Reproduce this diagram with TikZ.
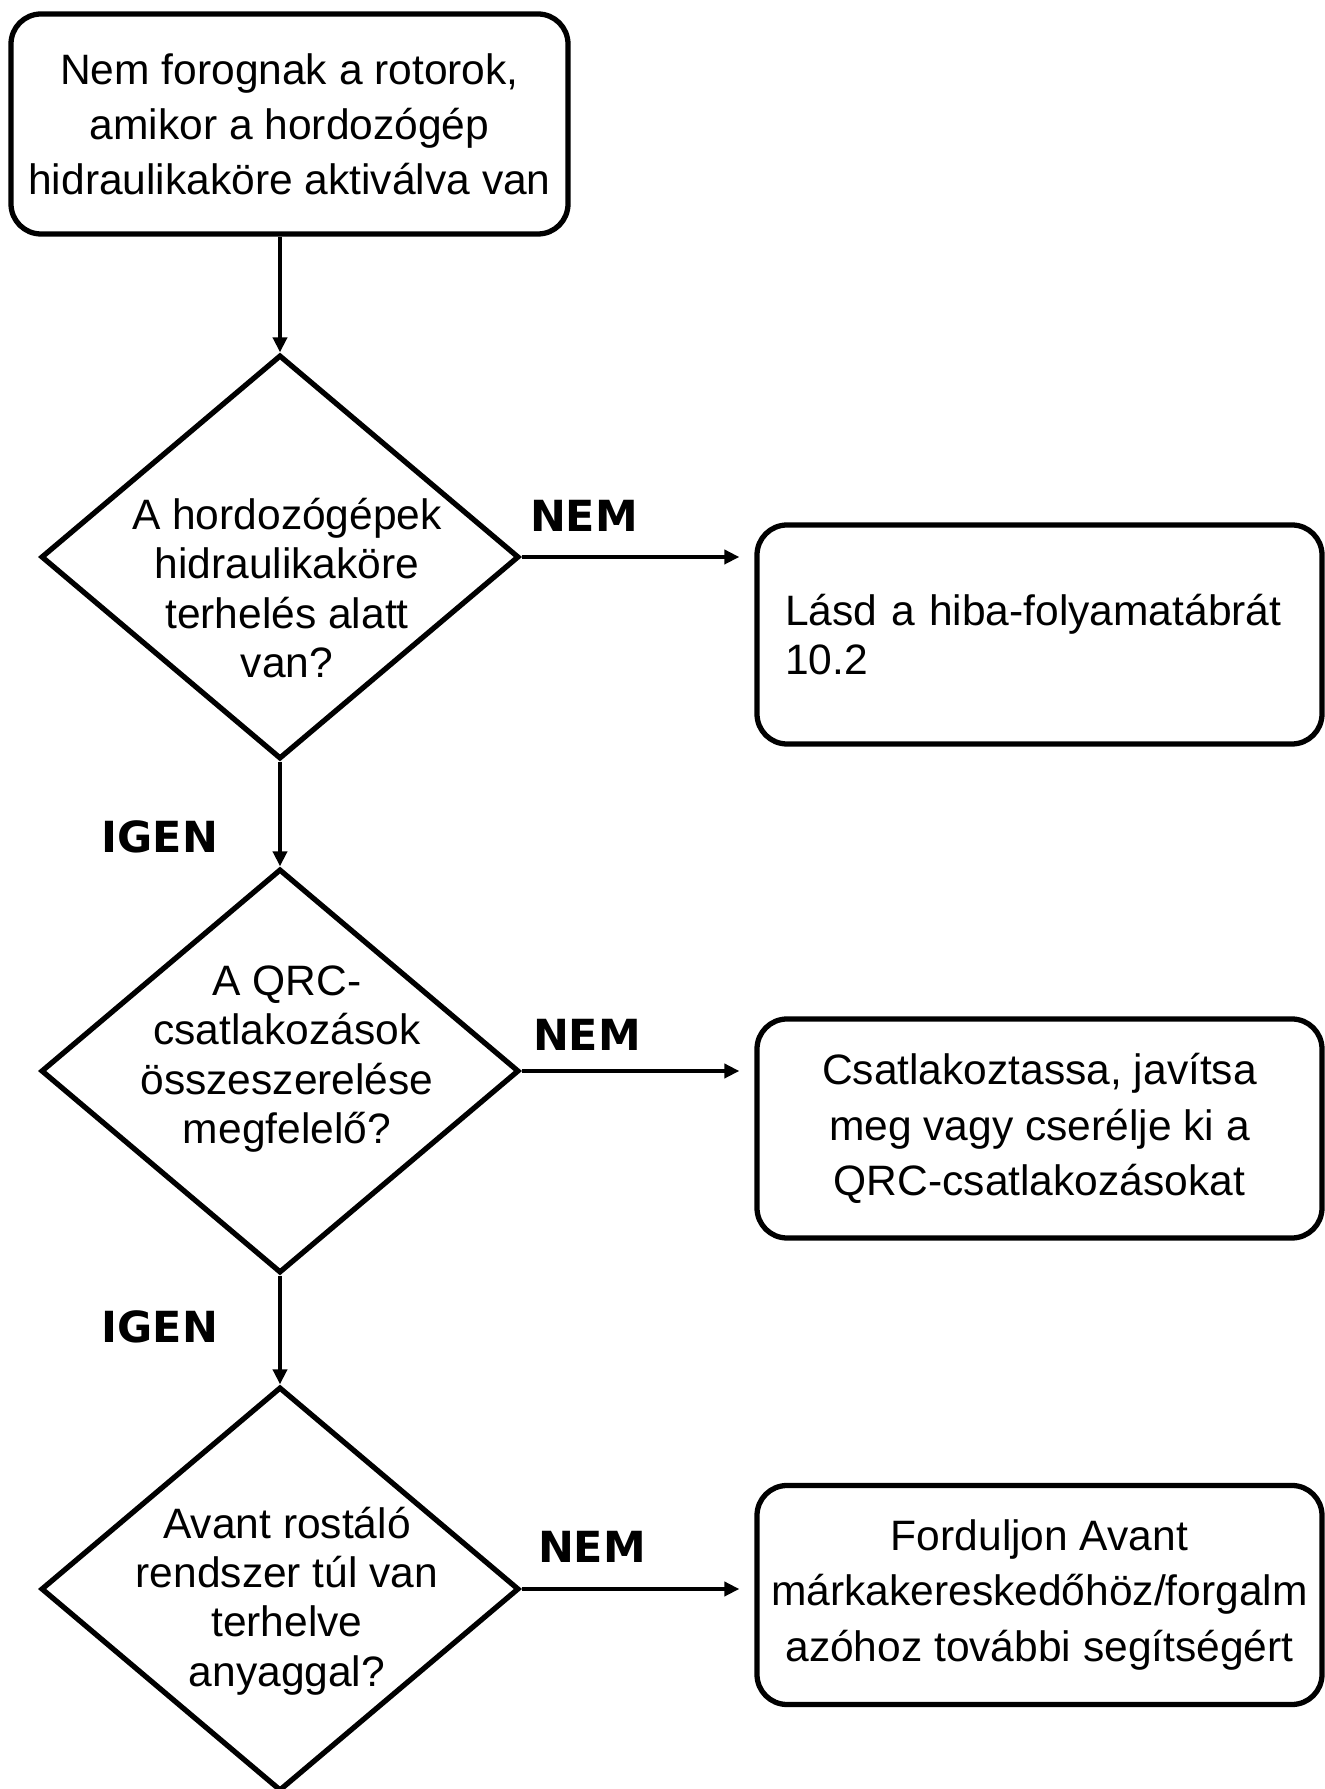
\documentclass[tikz,border=0pt]{standalone}
\usepackage{fontspec}
\setmainfont{Liberation Sans}
\newfontfamily\labelfont{DejaVu Sans}
\usetikzlibrary{arrows.meta,positioning,calc,shapes.geometric}

\begin{document}
\begin{tikzpicture}[
  stepbox/.style={draw,line width=1.5pt,rounded corners=0.3cm,minimum width=5.65cm,minimum height=2.19cm,inner sep=0pt,font=\fontsize{12.1}{15.7}\selectfont},
  decision/.style={draw,diamond,line width=1.5pt,minimum width=4.78cm,minimum height=4.04cm,inner sep=0pt},
  qtext/.style={align=center,inner sep=0pt,font=\fontsize{12.1}{14}\selectfont},
  answer/.style={inner sep=0pt,font=\labelfont\bfseries\fontsize{12.2}{14}\selectfont},
  flow/.style={-{Triangle[length=0.15cm,width=0.14cm]},line width=1.2pt}
]
\useasboundingbox (0,0) rectangle (13.24,17.89);
% start
\node[stepbox,minimum width=5.57cm,minimum height=2.20cm,align=center] (start) at (2.895,16.65) {Nem forognak a rotorok,\\ amikor a hordozógép\\ hidraulikaköre aktiválva van};
% decisions
\node[decision] (d1) at (2.80,12.32) {};
\node[qtext] (t1) at (2.87,12.01) {A hordozógépek\\ hidraulikaköre\\ terhelés alatt\\ van?};
\node[decision] (d2) at (2.80,7.18) {};
\node[qtext] (t2) at (2.87,7.30) {A QRC-\\ csatlakozások\\ összeszerelése\\ megfelelő?};
\node[decision] (d3) at (2.80,2.00) {};
\node[qtext] (t3) at (2.87,1.88) {Avant rostáló\\ rendszer túl van\\ terhelve\\ anyaggal?};
% actions
\node[stepbox,align=left,text width=5.09cm,inner xsep=0.28cm,font=\fontsize{12.1}{14}\selectfont] (b2) at (10.395,11.545) {Lásd a hiba-folyamatábrát\\ 10.2};
\node[stepbox,align=center] (b3) at (10.395,6.605) {Csatlakoztassa, javítsa\\ meg vagy cserélje ki a\\ QRC-csatlakozásokat};
\node[stepbox,align=center] (b4) at (10.395,1.94) {Forduljon Avant\\ márkakereskedőhöz/forgalm\\ azóhoz további segítségért};
% labels
\node[answer] (n1) at (5.84,12.73) {NEM};
\node[answer] (n2) at (5.87,7.54) {NEM};
\node[answer] (n3) at (5.92,2.42) {NEM};
\node[answer] (y1) at (1.60,9.52) {IGEN};
\node[answer] (y2) at (1.60,4.62) {IGEN};
% arrows
\draw[flow] (d1.north |- start.south) -- (d1.north);
\draw[flow] (d1.south) -- (d2.north);
\draw[flow] (d2.south) -- (d3.north);
\foreach \d/\b in {d1/b2,d2/b3,d3/b4}
  \draw[flow,shorten >=0.15cm] (\d.east) -- (\d.east -| \b.west);
\end{tikzpicture}
\end{document}
